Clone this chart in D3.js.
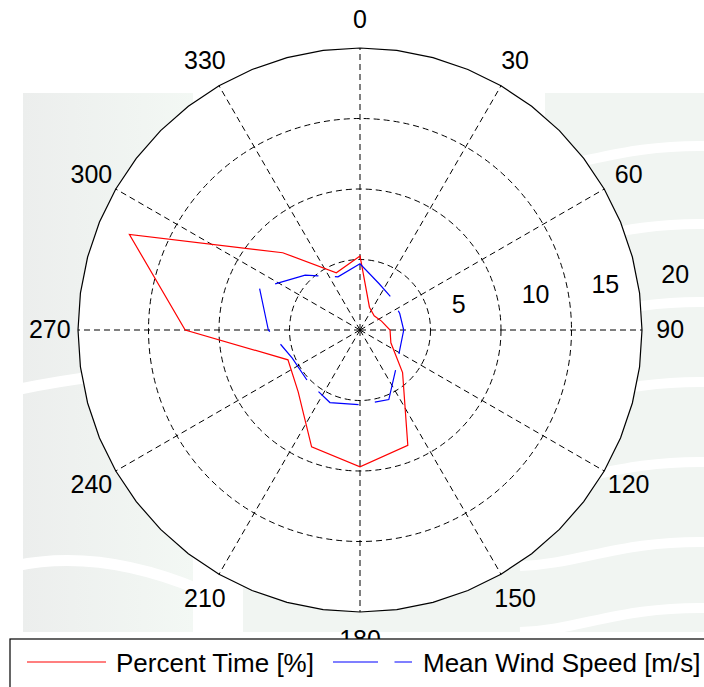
<!DOCTYPE html>
<html>
<head>
<meta charset="utf-8">
<script src="https://cdn.jsdelivr.net/npm/d3@7"></script>
<style>
  body { margin: 0; background: #fff; }
  text { font-family: "Liberation Sans", Arial, sans-serif; fill: #000; }
</style>
</head>
<body>
<script>
// wind directions (deg, clockwise from north)
var directions = [0, 22.5, 45, 67.5, 90, 112.5, 135, 157.5, 180, 202.5, 225, 247.5, 270, 292.5, 315, 337.5];
var percentTime = [5.25, 1.75, 1.42, 1.65, 2.13, 2.37, 4.27, 8.86, 9.7, 8.97, 6.2, 5.53, 12.4, 17.7, 7.75, 4.39];
var meanWindSpeed = [4.7, 3.55, 3.2, 3.05, 3.1, 3.1, 3.65, 5.34, 5.3, 5.57, 5.2, 5.2, 6.5, 7.71, 5.5, 4.08];
var angleTicks = [0, 30, 60, 90, 120, 150, 180, 210, 240, 270, 300, 330];
var radialTicks = [5, 10, 15, 20];
var seriesNames = ["Percent Time [%]", "Mean Wind Speed [m/s]"];

var W = 704, H = 687;
var cx = 360, cy = 330;

var svg = d3.select("body").append("svg")
  .attr("width", W)
  .attr("height", H);

var defs = svg.append("defs");
var grad = defs.append("linearGradient").attr("id", "wm").attr("x1", 0).attr("x2", 1).attr("y1", 0).attr("y2", 0);
grad.append("stop").attr("offset", "0%").attr("stop-color", "#eceeed");
grad.append("stop").attr("offset", "100%").attr("stop-color", "#f3f8f4");

// faint watermark behind the plot
var bg = svg.append("g");
bg.append("rect").attr("x", 23).attr("y", 93).attr("width", 170).attr("height", 539).attr("fill", "url(#wm)");
bg.append("rect").attr("x", 243).attr("y", 93).attr("width", 461).attr("height", 539).attr("fill", "#f1f5f2");
bg.append("rect").attr("x", 505).attr("y", 93).attr("width", 40).attr("height", 60).attr("fill", "#fff");
var waveL = [[390, 368], [566, 590]];
waveL.forEach(function(w) {
  bg.append("path")
    .attr("d", "M15," + w[0] + " Q100," + (w[0] - 18) + " 200," + w[1])
    .attr("fill", "none").attr("stroke", "#fff").attr("stroke-width", 11);
});
var waveR = [150, 228, 306, 386, 466, 546, 612];
waveR.forEach(function(y) {
  bg.append("path")
    .attr("d", "M520," + (y + 20) + " C580," + (y + 18) + " 620," + (y - 6) + " 710," + (y - 4))
    .attr("fill", "none").attr("stroke", "#fff").attr("stroke-width", 10);
});

var g = svg.append("g").attr("transform", "translate(" + cx + "," + cy + ")");

var r = d3.scaleLinear().domain([0, 20]).range([0, 282]);
var ang = d3.scaleLinear().domain([0, 360]).range([0, 2 * Math.PI]);

// outer circle (faceted like the original)
var ring = d3.lineRadial()
  .angle(function(d) { return ang(d); })
  .radius(r(20))
  .curve(d3.curveLinearClosed);
g.append("path")
  .attr("d", ring(d3.range(0, 360, 7.5)))
  .attr("fill", "#fff")
  .attr("stroke", "#000")
  .attr("stroke-width", 1.2);

// dashed rings
radialTicks.slice(0, -1).forEach(function(v) {
  g.append("circle")
    .attr("r", r(v))
    .attr("fill", "none")
    .attr("stroke", "#000")
    .attr("stroke-width", 1)
    .attr("stroke-dasharray", "6,4");
});

// spokes
angleTicks.forEach(function(a) {
  var t = ang(a);
  g.append("line")
    .attr("x1", 0).attr("y1", 0)
    .attr("x2", r(20) * Math.sin(t))
    .attr("y2", -r(20) * Math.cos(t))
    .attr("stroke", "#000")
    .attr("stroke-width", 1)
    .attr("stroke-dasharray", "6,4");
});

// angle labels
angleTicks.forEach(function(a) {
  var t = ang(a);
  g.append("text")
    .attr("x", r(20) * 1.1 * Math.sin(t))
    .attr("y", -r(20) * 1.1 * Math.cos(t) - 1)
    .attr("text-anchor", "middle")
    .attr("dominant-baseline", "central")
    .style("font-size", "25px")
    .text(a);
});

// radial labels
radialTicks.forEach(function(v) {
  var t = ang(82);
  g.append("text")
    .attr("x", r(v) * Math.sin(t) + 22)
    .attr("y", -r(v) * Math.cos(t) - 16.5)
    .attr("text-anchor", "start")
    .attr("dominant-baseline", "central")
    .style("font-size", "25px")
    .text(v);
});

var line = d3.lineRadial()
  .angle(function(d) { return ang(d[0]); })
  .radius(function(d) { return r(d[1]); })
  .curve(d3.curveLinearClosed);

g.append("path")
  .attr("d", line(d3.zip(directions, percentTime)))
  .attr("fill", "none")
  .attr("stroke", "#ff0000")
  .attr("stroke-width", 1.2);

g.append("path")
  .attr("d", line(d3.zip(directions, meanWindSpeed)))
  .attr("fill", "none")
  .attr("stroke", "#0000ff")
  .attr("stroke-width", 1.2)
  .attr("stroke-dasharray", "44.5,16.5");

// legend
var leg = svg.append("g");
leg.append("rect")
  .attr("x", 10).attr("y", 639)
  .attr("width", 720).attr("height", 70)
  .attr("fill", "#fff")
  .attr("stroke", "#000")
  .attr("stroke-width", 1.2);
leg.append("line")
  .attr("x1", 27).attr("x2", 106).attr("y1", 662).attr("y2", 662)
  .attr("stroke", "#ff0000").attr("stroke-width", 1.2);
leg.append("text")
  .attr("x", 116).attr("y", 663)
  .attr("dominant-baseline", "central")
  .style("font-size", "26px")
  .text(seriesNames[0]);
leg.append("line")
  .attr("x1", 333).attr("x2", 412).attr("y1", 662).attr("y2", 662)
  .attr("stroke", "#0000ff").attr("stroke-width", 1.2)
  .attr("stroke-dasharray", "45,16.5");
leg.append("text")
  .attr("x", 423).attr("y", 663)
  .attr("dominant-baseline", "central")
  .style("font-size", "26px")
  .text(seriesNames[1]);
</script>
</body>
</html>
